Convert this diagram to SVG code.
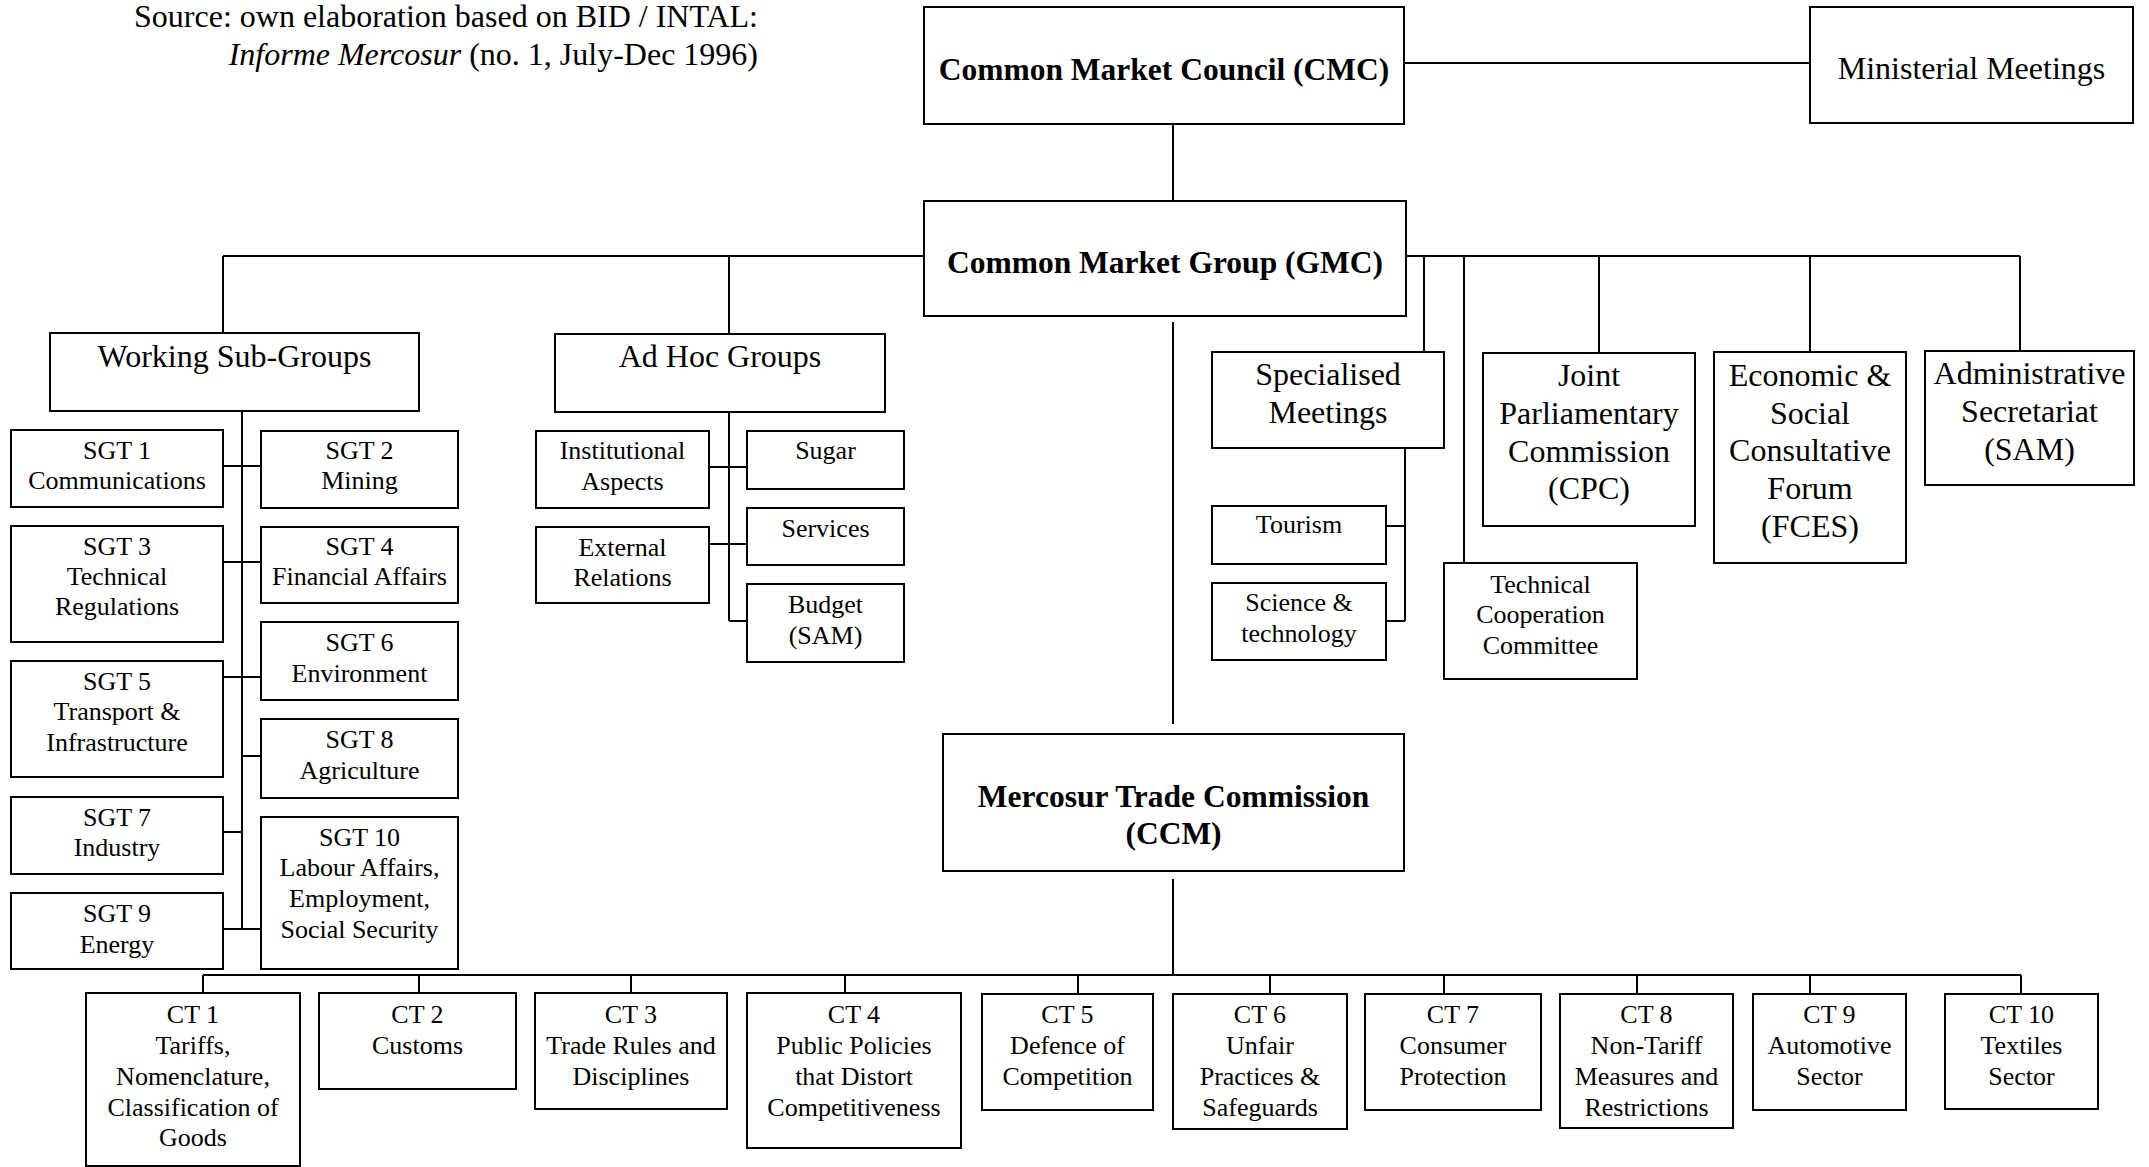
<svg xmlns="http://www.w3.org/2000/svg" width="2149" height="1167" viewBox="0 0 2149 1167">
<style>
  .bg { fill: #ffffff; }
  .box { fill: #ffffff; stroke: #000000; stroke-width: 2; }
  .conn line { stroke: #000000; stroke-width: 2; }
  text { font-family: "Liberation Serif", "Times New Roman", serif; fill: #000000; text-anchor: middle; }
  .s { font-size: 26px; }
  .m { font-size: 32px; }
  .b { font-size: 31.5px; font-weight: bold; }
  .src { font-size: 32px; text-anchor: end; }
</style>
<rect class="bg" x="0" y="0" width="2149" height="1167"/>

<g id="source">
  <text class="src" x="758" y="27">Source: own elaboration based on BID / INTAL:</text>
  <text class="src" x="758" y="65"><tspan font-style="italic">Informe Mercosur</tspan> (no. 1, July-Dec 1996)</text>
</g>

<g id="connectors" class="conn">
  <!-- CMC -->
  <line x1="1404" y1="63" x2="1810" y2="63"/>
  <line x1="1173" y1="124" x2="1173" y2="201"/>
  <!-- GMC left -->
  <line x1="223" y1="256" x2="924" y2="256"/>
  <line x1="223" y1="256" x2="223" y2="333"/>
  <line x1="729" y1="256" x2="729" y2="334"/>
  <!-- GMC right -->
  <line x1="1406" y1="256" x2="2020" y2="256"/>
  <line x1="1424" y1="256" x2="1424" y2="352"/>
  <line x1="1464" y1="256" x2="1464" y2="563"/>
  <line x1="1599" y1="256" x2="1599" y2="353"/>
  <line x1="1810" y1="256" x2="1810" y2="352"/>
  <line x1="2020" y1="256" x2="2020" y2="351"/>
  <!-- Specialised sub -->
  <line x1="1405" y1="448" x2="1405" y2="621"/>
  <line x1="1386" y1="526" x2="1405" y2="526"/>
  <line x1="1386" y1="621" x2="1405" y2="621"/>
  <!-- GMC down to CCM -->
  <line x1="1173" y1="322" x2="1173" y2="724"/>
  <line x1="1173" y1="879" x2="1173" y2="975"/>
  <!-- Working sub-groups trunk -->
  <line x1="242" y1="411" x2="242" y2="929"/>
  <line x1="223" y1="466" x2="261" y2="466"/>
  <line x1="223" y1="562" x2="261" y2="562"/>
  <line x1="223" y1="677" x2="261" y2="677"/>
  <line x1="242" y1="756" x2="261" y2="756"/>
  <line x1="223" y1="832" x2="242" y2="832"/>
  <line x1="223" y1="929" x2="261" y2="929"/>
  <!-- Ad hoc trunk -->
  <line x1="729" y1="412" x2="729" y2="621"/>
  <line x1="709" y1="467" x2="747" y2="467"/>
  <line x1="709" y1="544" x2="747" y2="544"/>
  <line x1="729" y1="621" x2="747" y2="621"/>
  <!-- CT bus -->
  <line x1="203" y1="975" x2="2021" y2="975"/>
  <line x1="203" y1="975" x2="203" y2="993"/>
  <line x1="419" y1="975" x2="419" y2="993"/>
  <line x1="631" y1="975" x2="631" y2="993"/>
  <line x1="845" y1="975" x2="845" y2="993"/>
  <line x1="1078" y1="975" x2="1078" y2="994"/>
  <line x1="1270" y1="975" x2="1270" y2="994"/>
  <line x1="1444" y1="975" x2="1444" y2="994"/>
  <line x1="1637" y1="975" x2="1637" y2="994"/>
  <line x1="1810" y1="975" x2="1810" y2="994"/>
  <line x1="2021" y1="975" x2="2021" y2="994"/>
</g>

<g id="cmc"><rect class="box" x="924" y="7" width="480" height="117"/><text class="b" x="1164" y="80">Common Market Council (CMC)</text></g>
<g id="ministerial"><rect class="box" x="1810" y="7" width="323" height="116"/><text class="m" x="1971.5" y="79">Ministerial Meetings</text></g>
<g id="gmc"><rect class="box" x="924" y="201" width="482" height="115"/><text class="b" x="1165" y="273">Common Market Group (GMC)</text></g>
<g id="wsg"><rect class="box" x="50" y="333" width="369" height="78"/><text class="m" x="234.5" y="367">Working Sub-Groups</text></g>
<g id="adhoc"><rect class="box" x="555" y="334" width="330" height="78"/><text class="m" x="720" y="367">Ad Hoc Groups</text></g>

<g id="specialised"><rect class="box" x="1212" y="352" width="232" height="96"/><text class="m" x="1328" y="385">Specialised</text><text class="m" x="1328" y="423">Meetings</text></g>
<g id="cpc"><rect class="box" x="1483" y="353" width="212" height="173"/><text class="m" x="1589" y="386">Joint</text><text class="m" x="1589" y="424">Parliamentary</text><text class="m" x="1589" y="462">Commission</text><text class="m" x="1589" y="499">(CPC)</text></g>
<g id="fces"><rect class="box" x="1714" y="352" width="192" height="211"/><text class="m" x="1810" y="386">Economic &amp;</text><text class="m" x="1810" y="424">Social</text><text class="m" x="1810" y="461">Consultative</text><text class="m" x="1810" y="499">Forum</text><text class="m" x="1810" y="537">(FCES)</text></g>
<g id="sam"><rect class="box" x="1925" y="351" width="209" height="134"/><text class="m" x="2029.5" y="384">Administrative</text><text class="m" x="2029.5" y="422">Secretariat</text><text class="m" x="2029.5" y="460">(SAM)</text></g>
<g id="tourism"><rect class="box" x="1212" y="506" width="174" height="58"/><text class="s" x="1299" y="533">Tourism</text></g>
<g id="science"><rect class="box" x="1212" y="583" width="174" height="77"/><text class="s" x="1299" y="611">Science &amp;</text><text class="s" x="1299" y="642">technology</text></g>
<g id="techcoop"><rect class="box" x="1444" y="563" width="193" height="116"/><text class="s" x="1540.5" y="593">Technical</text><text class="s" x="1540.5" y="623">Cooperation</text><text class="s" x="1540.5" y="654">Committee</text></g>

<g id="sgt1"><rect class="box" x="11" y="430" width="212" height="77"/><text class="s" x="117" y="459">SGT 1</text><text class="s" x="117" y="489">Communications</text></g>
<g id="sgt2"><rect class="box" x="261" y="431" width="197" height="77"/><text class="s" x="359.5" y="459">SGT 2</text><text class="s" x="359.5" y="489">Mining</text></g>
<g id="sgt3"><rect class="box" x="11" y="526" width="212" height="116"/><text class="s" x="117" y="555">SGT 3</text><text class="s" x="117" y="585">Technical</text><text class="s" x="117" y="615">Regulations</text></g>
<g id="sgt4"><rect class="box" x="261" y="527" width="197" height="76"/><text class="s" x="359.5" y="555">SGT 4</text><text class="s" x="359.5" y="585">Financial Affairs</text></g>
<g id="sgt6"><rect class="box" x="261" y="622" width="197" height="78"/><text class="s" x="359.5" y="651">SGT 6</text><text class="s" x="359.5" y="682">Environment</text></g>
<g id="sgt5"><rect class="box" x="11" y="661" width="212" height="116"/><text class="s" x="117" y="690">SGT 5</text><text class="s" x="117" y="720">Transport &amp;</text><text class="s" x="117" y="751">Infrastructure</text></g>
<g id="sgt8"><rect class="box" x="261" y="719" width="197" height="79"/><text class="s" x="359.5" y="748">SGT 8</text><text class="s" x="359.5" y="779">Agriculture</text></g>
<g id="sgt7"><rect class="box" x="11" y="797" width="212" height="77"/><text class="s" x="117" y="826">SGT 7</text><text class="s" x="117" y="856">Industry</text></g>
<g id="sgt10"><rect class="box" x="261" y="817" width="197" height="152"/><text class="s" x="359.5" y="846">SGT 10</text><text class="s" x="359.5" y="876">Labour Affairs,</text><text class="s" x="359.5" y="907">Employment,</text><text class="s" x="359.5" y="938">Social Security</text></g>
<g id="sgt9"><rect class="box" x="11" y="893" width="212" height="76"/><text class="s" x="117" y="922">SGT 9</text><text class="s" x="117" y="953">Energy</text></g>

<g id="inst"><rect class="box" x="536" y="431" width="173" height="77"/><text class="s" x="622.5" y="459">Institutional</text><text class="s" x="622.5" y="490">Aspects</text></g>
<g id="ext"><rect class="box" x="536" y="527" width="173" height="76"/><text class="s" x="622.5" y="556">External</text><text class="s" x="622.5" y="586">Relations</text></g>
<g id="sugar"><rect class="box" x="747" y="431" width="157" height="58"/><text class="s" x="825.5" y="459">Sugar</text></g>
<g id="services"><rect class="box" x="747" y="508" width="157" height="57"/><text class="s" x="825.5" y="537">Services</text></g>
<g id="budget"><rect class="box" x="747" y="584" width="157" height="78"/><text class="s" x="825.5" y="613">Budget</text><text class="s" x="825.5" y="644">(SAM)</text></g>

<g id="ccm"><rect class="box" x="943" y="734" width="461" height="137"/><text class="b" x="1173.5" y="807">Mercosur Trade Commission</text><text class="b" x="1173.5" y="844">(CCM)</text></g>

<g id="ct1"><rect class="box" x="86" y="993" width="214" height="173"/><text class="s" x="193" y="1023">CT 1</text><text class="s" x="193" y="1054">Tariffs,</text><text class="s" x="193" y="1085">Nomenclature,</text><text class="s" x="193" y="1116">Classification of</text><text class="s" x="193" y="1146">Goods</text></g>
<g id="ct2"><rect class="box" x="319" y="993" width="197" height="96"/><text class="s" x="417.5" y="1023">CT 2</text><text class="s" x="417.5" y="1054">Customs</text></g>
<g id="ct3"><rect class="box" x="535" y="993" width="192" height="116"/><text class="s" x="631" y="1023">CT 3</text><text class="s" x="631" y="1054">Trade Rules and</text><text class="s" x="631" y="1085">Disciplines</text></g>
<g id="ct4"><rect class="box" x="747" y="993" width="214" height="155"/><text class="s" x="854" y="1023">CT 4</text><text class="s" x="854" y="1054">Public Policies</text><text class="s" x="854" y="1085">that Distort</text><text class="s" x="854" y="1116">Competitiveness</text></g>
<g id="ct5"><rect class="box" x="982" y="994" width="171" height="116"/><text class="s" x="1067.5" y="1023">CT 5</text><text class="s" x="1067.5" y="1054">Defence of</text><text class="s" x="1067.5" y="1085">Competition</text></g>
<g id="ct6"><rect class="box" x="1173" y="994" width="174" height="135"/><text class="s" x="1260" y="1023">CT 6</text><text class="s" x="1260" y="1054">Unfair</text><text class="s" x="1260" y="1085">Practices &amp;</text><text class="s" x="1260" y="1116">Safeguards</text></g>
<g id="ct7"><rect class="box" x="1365" y="994" width="176" height="116"/><text class="s" x="1453" y="1023">CT 7</text><text class="s" x="1453" y="1054">Consumer</text><text class="s" x="1453" y="1085">Protection</text></g>
<g id="ct8"><rect class="box" x="1560" y="994" width="173" height="134"/><text class="s" x="1646.5" y="1023">CT 8</text><text class="s" x="1646.5" y="1054">Non-Tariff</text><text class="s" x="1646.5" y="1085">Measures and</text><text class="s" x="1646.5" y="1116">Restrictions</text></g>
<g id="ct9"><rect class="box" x="1753" y="994" width="153" height="116"/><text class="s" x="1829.5" y="1023">CT 9</text><text class="s" x="1829.5" y="1054">Automotive</text><text class="s" x="1829.5" y="1085">Sector</text></g>
<g id="ct10"><rect class="box" x="1945" y="994" width="153" height="115"/><text class="s" x="2021.5" y="1023">CT 10</text><text class="s" x="2021.5" y="1054">Textiles</text><text class="s" x="2021.5" y="1085">Sector</text></g>
</svg>
